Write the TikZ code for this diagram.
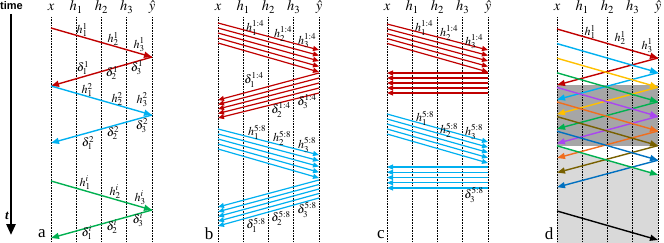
\documentclass[tikz,border=0pt]{standalone}
\usepackage{mathptmx}
\usepackage[no-math]{fontspec}
\setmainfont{Liberation Serif}
\newfontfamily\timefont{Liberation Sans}
\usetikzlibrary{arrows.meta}

\definecolor{cred}{RGB}{192,0,0}
\definecolor{cblue}{RGB}{0,176,240}
\definecolor{cgreen}{RGB}{0,176,80}
\definecolor{cyellow}{RGB}{255,192,0}
\definecolor{cpurple}{RGB}{170,70,240}
\definecolor{corange}{RGB}{240,110,30}
\definecolor{cbrown}{RGB}{120,96,0}
\definecolor{cdblue}{RGB}{0,112,192}

\def \dx{25.25}

\begin{document}
\begin{tikzpicture}[x=1pt, y=-1pt,
    col/.style={densely dotted, line width=0.6pt},
    pass/.style={line width=1.4pt, -{Triangle[length=8pt,width=6pt]}},
    batch/.style={line width=1.2pt, -{Triangle[length=6pt,width=5pt]}},
    lab/.style={inner sep=0pt, font=\fontsize{12}{13}\selectfont},
    head/.style={inner sep=0pt, anchor=base, font=\fontsize{14.5}{16}\selectfont},
    letter/.style={inner sep=0pt, font=\fontsize{17}{18}\selectfont}]
  \useasboundingbox (0,0) rectangle (664,243);

  % shading in d
  \fill[black!35] (557,85) rectangle (658,146);
  \fill[black!15] (557,146) -- (658,175) -- (658,243) -- (557,243) -- cycle;

  % time axis
  \node[inner sep=0pt, font=\timefont\bfseries\fontsize{11}{12}\selectfont] (time) at (11.5,6) {time};
  \coordinate (tstart) at (11,14);
  \coordinate (tend) at (11,235);
  \draw[line width=2.6pt, -{Triangle[length=11pt,width=9pt]}] (tstart) -- (tend);
  \node[inner sep=0pt, font=\bfseries\itshape\fontsize{13}{14}\selectfont] (tlab) at (7,216) {t};

  % columns
  \foreach \pan/\ox in {a/51,b/218,c/387,d/557}{
    \foreach \i/\lbl in {0/x,1/h_1,2/h_2,3/h_3,4/\hat{y}}{
      \node[head] (\pan\i) at ({\ox+\dx*\i},11) {$\lbl$};
      \coordinate (\pan\i-top) at ({\ox+\dx*\i},17);
      \coordinate (\pan\i-bot) at ({\ox+\dx*\i},243);
      \draw[col] (\pan\i-top) -- (\pan\i-bot);
    }
  }

  % panel letters
  \node[letter] (pa) at (42,234) {a};
  \node[letter] (pb) at (209,234) {b};
  \node[letter] (pc) at (381,235) {c};
  \node[letter] (pd) at (549,234) {d};

  % a: one example at a time
  \coordinate (a1s) at (51,28);
  \coordinate (a1m) at (152,57);
  \coordinate (a1e) at (51,86);
  \coordinate (a2m) at (152,115);
  \coordinate (a2e) at (51,143);
  \coordinate (a3s) at (51,181);
  \coordinate (a3m) at (152,210);
  \coordinate (a3e) at (51,238);
  \draw[pass, cred] (a1s) -- (a1m);
  \draw[pass, cred] (a1m) -- (a1e);
  \draw[pass, cblue] (a1e) -- (a2m);
  \draw[pass, cblue] (a2m) -- (a2e);
  \draw[pass, cgreen] (a3s) -- (a3m);
  \draw[pass, cgreen] (a3m) -- (a3e);
  \foreach \nm/\px/\py/\txt in {ah1/82/30/h_1^1, ah2/113/39/h_2^1, ah3/139/45/h_3^1,
      ad1/83/68/\delta_1^1, ad2/112/73/\delta_2^1, ad3/137/68/\delta_3^1,
      bh1/87/90/h_1^2, bh2/117/99/h_2^2, bh3/142/100/h_3^2,
      bd1/88/143/\delta_1^2, bd2/113/133/\delta_2^2, bd3/142/126/\delta_3^2,
      ih1/85/183/h_1^i, ih2/115/192/h_2^i, ih3/140/198/h_3^i,
      id1/87/233/\delta_1^i, id2/112/227/\delta_2^i, id3/138/220/\delta_3^i}
    \node[lab] (a\nm) at (\px,\py) {$\txt$};

  % b: mini-batches
  \foreach \k in {0,...,4}{
    \coordinate (bRs\k) at (218,{23+5*\k});
    \coordinate (bRm\k) at (319,{50+5.5*\k});
    \coordinate (bRn\k) at (319,{73+5*\k});
    \coordinate (bRe\k) at (218,{100+4.5*\k});
    \coordinate (bBs\k) at (218,{129+5*\k});
    \coordinate (bBm\k) at (319,{155+5.75*\k});
    \coordinate (bBn\k) at (319,{180+4.5*\k});
    \coordinate (bBe\k) at (218,{207+4.75*\k});
    \draw[batch, cred] (bRs\k) -- (bRm\k);
    \draw[batch, cred] (bRn\k) -- (bRe\k);
    \draw[batch, cblue] (bBs\k) -- (bBm\k);
    \draw[batch, cblue] (bBn\k) -- (bBe\k);
  }
  \foreach \nm/\px/\py/\txt in {h1/255/28/h_1^{1:4}, h2/283/34/h_2^{1:4}, h3/307/41/h_3^{1:4},
      d1/254/80/\delta_1^{1:4}, d2/281/110/\delta_2^{1:4}, d3/307/102/\delta_3^{1:4},
      g1/257/132/h_1^{5:8}, g2/282/138/h_2^{5:8}, g3/307/145/h_3^{5:8},
      e1/256/225/\delta_1^{5:8}, e2/281/218/\delta_2^{5:8}, e3/307/210/\delta_3^{5:8}}
    \node[lab] (b\nm) at (\px,\py) {$\txt$};

  % c: mini-batches, flat backward
  \foreach \k in {0,...,4}{
    \coordinate (cRs\k) at (387,{24+4.85*\k});
    \coordinate (cRm\k) at (488,{50+5.5*\k});
    \coordinate (cRn\k) at (488,{73+5*\k});
    \coordinate (cRe\k) at (387,{73+5*\k});
    \coordinate (cBs\k) at (387,{114+5*\k});
    \coordinate (cBm\k) at (488,{142+5.25*\k});
    \coordinate (cBn\k) at (488,{167+5.25*\k});
    \coordinate (cBe\k) at (387,{167+5.25*\k});
    \draw[batch, cred] (cRs\k) -- (cRm\k);
    \draw[batch, cred] (cRn\k) -- (cRe\k);
    \draw[batch, cblue] (cBs\k) -- (cBm\k);
    \draw[batch, cblue] (cBn\k) -- (cBe\k);
  }
  \foreach \nm/\px/\py/\txt in {h1/424/28/h_1^{1:4}, h2/449/33/h_2^{1:4}, h3/474/42/h_3^{1:4},
      g1/425/118/h_1^{5:8}, g2/449/130/h_2^{5:8}, g3/474/132/h_3^{5:8},
      e3/474/195/\delta_3^{5:8}}
    \node[lab] (c\nm) at (\px,\py) {$\txt$};

  % d: pipelined
  \foreach \k/\cl in {0/cred,1/cblue,2/cyellow,3/cgreen,4/cpurple,5/corange,6/cbrown,7/cdblue,8/cgreen}{
    \pgfmathsetmacro\ys{29+14.6*\k}
    \coordinate (ds\k) at (557,\ys);
    \coordinate (dm\k) at (658,\ys+29);
    \coordinate (de\k) at (557,\ys+56);
    \draw[pass, \cl] (ds\k) -- (dm\k);
    \ifnum\k<8 \draw[pass, \cl] (dm\k) -- (de\k); \fi
  }
  \coordinate (dks) at (557,211);
  \coordinate (dke) at (658,240);
  \draw[pass, black] (dks) -- (dke);
  \node[lab] (dh1) at (590,32) {$h_1^1$};
  \node[lab] (dh2) at (620,38) {$h_2^1$};
  \node[lab] (dh3) at (647,46) {$h_3^1$};
\end{tikzpicture}
\end{document}
